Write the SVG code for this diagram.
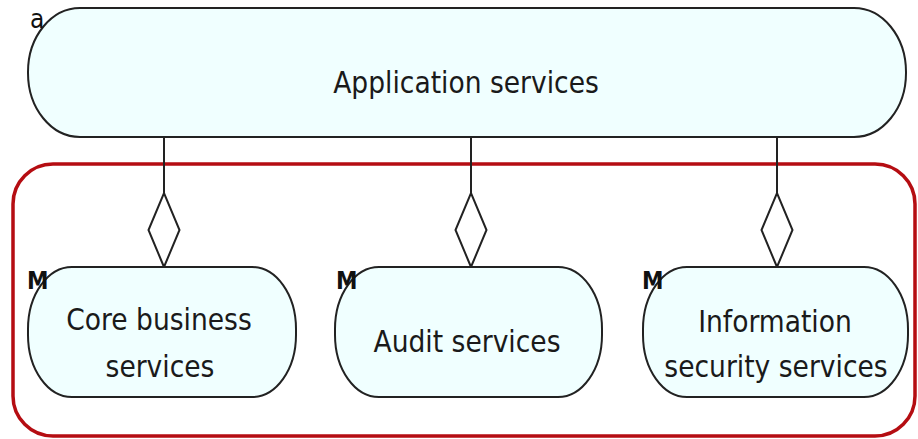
<svg xmlns="http://www.w3.org/2000/svg" width="918" height="439" viewBox="0 0 918 439">
  <style>
    .node { fill: #f0ffff; stroke: #222222; stroke-width: 2; }
    .lbl { font-family: "DejaVu Sans Condensed", "DejaVu Sans", sans-serif; font-size: 29.5px; fill: #1a1a1a; text-anchor: middle; }
    .tag { font-family: "DejaVu Sans Condensed", "DejaVu Sans", sans-serif; font-size: 26px; fill: #111111; }
    .tagb { font-family: "DejaVu Sans Condensed", "DejaVu Sans", sans-serif; font-size: 24px; font-weight: bold; fill: #111111; }
    .conn { fill: none; stroke: #222222; stroke-width: 2; }
    .group { fill: none; stroke: #b50d12; stroke-width: 3.5; }
  </style>
  <defs>
    <marker id="diamond" markerUnits="userSpaceOnUse" markerWidth="80" markerHeight="36" viewBox="-2 -18 80 36" refX="0" refY="0" orient="auto">
      <polygon points="0,0 37,-15.5 74,0 37,15.5" fill="#ffffff" stroke="#222222" stroke-width="2"/>
    </marker>
  </defs>
  <rect width="918" height="439" fill="#ffffff"/>
  <g id="group-box">
    <rect class="group" x="13" y="164" width="902" height="272" rx="40" ry="40"/>
  </g>
  <g id="node-application-services">
    <rect class="node" x="28" y="8" width="878" height="129" rx="52" ry="64"/>
    <text class="lbl" x="466" y="93">Application services</text>
    <text class="tag" x="30" y="28">a</text>
  </g>
  <g id="connectors">
    <path class="conn" d="M164,267 L164,137" marker-start="url(#diamond)"/>
    <path class="conn" d="M471,267 L471,137" marker-start="url(#diamond)"/>
    <path class="conn" d="M777,267 L777,137" marker-start="url(#diamond)"/>
  </g>
  <g id="node-core-business-services">
    <rect class="node" x="28" y="267" width="268" height="130" rx="44" ry="62"/>
    <text class="lbl" x="159" y="330">Core business</text>
    <text class="lbl" x="160" y="377">services</text>
    <text class="tagb" x="27" y="289">M</text>
  </g>
  <g id="node-audit-services">
    <rect class="node" x="335" y="267" width="267" height="130" rx="44" ry="62"/>
    <text class="lbl" x="467" y="352">Audit services</text>
    <text class="tagb" x="336" y="289">M</text>
  </g>
  <g id="node-information-security-services">
    <rect class="node" x="643" y="267" width="265" height="130" rx="44" ry="62"/>
    <text class="lbl" x="775" y="332">Information</text>
    <text class="lbl" x="776" y="377">security services</text>
    <text class="tagb" x="642" y="289">M</text>
  </g>
</svg>
